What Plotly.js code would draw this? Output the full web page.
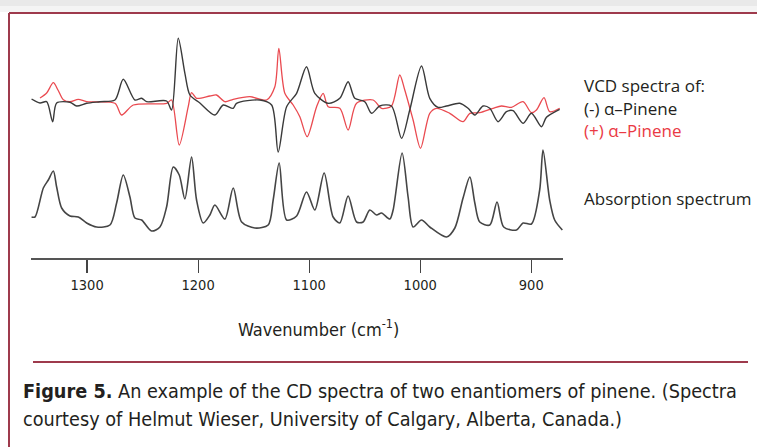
<!DOCTYPE html>
<html>
<head>
<meta charset="utf-8">
<script src="https://cdn.plot.ly/plotly-3.0.1.min.js"></script>
<style>html,body{margin:0;padding:0;background:#fff;}#chart{width:757px;height:447px;}</style>
</head>
<body>
<div id="chart"></div>
<script>
// Wavenumber (cm-1) and VCD signal (arbitrary units) of (-) alpha-pinene
const wnMinus = [1350,1342.4,1336.4,1331.0,1327.4,1315.4,1309.4,1300.4,1288.4,1274.9,1267.4,1256.9,1250.9,1246.4,1228.4,1223.9,1217.9,1211.9,1207.4,1198.4,1184.9,1177.4,1168.4,1165.4,1144.4,1133.8,1127.9,1120.3,1111.3,1102.4,1094.9,1082.9,1072.4,1064.9,1058.9,1049.9,1043.8,1036.4,1025.9,1016.8,1009.4,998.8,991.4,983.9,976.3,964.4,956.9,950.8,943.4,937.3,929.9,922.3,916.4,907.4,899.8,890.8,886.3,874.4];
const vcdMinus = [0.4,0,0.13,-1.87,0,0.07,-0.3,-0.03,0.13,0.3,2.37,0.3,0.47,0.13,0.2,-0.7,6.47,2.97,0.8,0,-1.2,-0.2,-0.53,-0.03,0.3,-0.2,-4.9,-0.37,0.97,3.63,0.97,-0.03,0.47,2.13,0.47,0.13,-1.03,-0.3,-0.3,-3.53,-0.7,3.7,0.47,-0.43,-0.3,-0.03,-0.53,-1.2,-0.3,-0.53,-1.87,-0.87,-0.77,-2.03,-1.03,-2.37,-1.43,-0.63];

// VCD signal of (+) alpha-pinene
const wnPlus = [1342.4,1336.4,1330.4,1326.2,1321.4,1315.4,1307.9,1300.4,1274.9,1268.9,1258.4,1228.4,1223.9,1217.0,1208.9,1205.9,1201.4,1189.4,1183.4,1175.9,1168.4,1153.4,1138.4,1130.9,1127.3,1121.9,1114.4,1108.4,1101.8,1093.3,1087.4,1082.9,1072.4,1064.9,1057.3,1042.4,1034.8,1025.9,1018.4,1013.9,1006.4,999.7,991.4,985.3,973.4,961.4,955.3,946.4,934.4,926.8,917.8,907.4,899.8,895.3,888.5,883.4,874.4];
const vcdPlus = [0.5,1.0,2.03,1.3,0.33,0.13,0.37,0.13,-0.03,-1.2,-0.2,-0.03,0.3,-4.2,-0.37,1.03,0.47,0.7,0.8,0.13,0.37,0.63,0.3,1.63,5.47,0.97,-0.2,-1.37,-3.37,-0.37,0.97,-0.37,-0.53,-2.7,-0.03,0.3,-0.53,-0.3,2.8,1.3,-1.7,-4.53,-1.03,-0.53,-1.03,-1.87,-1.03,-0.97,-0.53,-0.3,-0.43,0.13,-0.97,-0.7,0.53,-0.87,-0.53];

// Absorption spectrum (arbitrary units)
const wnAbs = [1350,1346.9,1339.4,1334.9,1330.4,1327.4,1322.9,1315.4,1307.9,1300.4,1291.4,1279.4,1273.4,1267.4,1261.4,1256.9,1250.9,1241.9,1234.4,1228.4,1222.4,1217.0,1211.9,1205.9,1201.4,1195.4,1189.4,1184.9,1175.9,1168.4,1160.8,1148.9,1136.9,1132.4,1127.0,1120.3,1111.3,1102.4,1094.9,1086.5,1078.4,1072.4,1064.9,1057.3,1051.4,1045.4,1039.3,1034.8,1027.4,1024.4,1016.3,1010.9,1006.4,998.8,991.4,976.3,968.8,961.4,955.3,950.8,946.4,937.3,930.8,924.8,913.3,907.4,899.8,892.4,889.4,883.4,878.9,872.0];
const absorb = [0.18,0.18,0.47,0.55,0.64,0.48,0.27,0.19,0.18,0.12,0.08,0.10,0.32,0.60,0.38,0.17,0.15,0.04,0.08,0.28,0.68,0.60,0.36,0.78,0.35,0.12,0.20,0.30,0.16,0.47,0.13,0.07,0.10,0.35,0.72,0.15,0.19,0.43,0.25,0.62,0.18,0.12,0.39,0.13,0.13,0.25,0.20,0.22,0.16,0.25,0.82,0.38,0.08,0.15,0.08,-0.02,0.07,0.37,0.58,0.32,0.13,0.10,0.33,0.08,0.05,0.12,0.11,0.45,0.85,0.35,0.15,0.05];

const tickVals = [1300,1200,1100,1000,900];
const tickText = ['1300','1200','1100','1000','900'];

const ink = '#231f20';
const maroon = '#9e3a4c';
const narrow = "'DejaVu Sans Condensed', 'Liberation Sans', sans-serif";

const traces = [
  {x: wnPlus, y: vcdPlus, yaxis: 'y2', type: 'scatter', mode: 'lines',
   line: {color: '#ea4a50', width: 1.3, shape: 'spline', smoothing: 0.8}, hoverinfo: 'skip'},
  {x: wnMinus, y: vcdMinus, yaxis: 'y2', type: 'scatter', mode: 'lines',
   line: {color: '#3a3a3a', width: 1.4, shape: 'spline', smoothing: 0.8}, hoverinfo: 'skip'},
  {x: wnAbs, y: absorb, yaxis: 'y', type: 'scatter', mode: 'lines',
   line: {color: '#454545', width: 1.6, shape: 'spline', smoothing: 0.8}, hoverinfo: 'skip'}
];

const L = 31, R = 194, T = 20, B = 189;
const PW = 757 - L - R, PH = 447 - T - B;
const px = v => (v - L) / PW;
const py = v => (447 - B - v) / PH;

const ann = (text, x, y, opts) => Object.assign({
  text: text, xref: 'paper', yref: 'paper', x: px(x), y: py(y),
  xanchor: 'left', yanchor: 'middle', showarrow: false,
  font: {family: 'Open Sans', size: 17, color: ink}
}, opts || {});

const layout = {
  width: 757, height: 447,
  margin: {l: L, r: R, t: T, b: B},
  paper_bgcolor: '#ffffff', plot_bgcolor: '#ffffff',
  showlegend: false,
  xaxis: {
    range: [1350.5, 871.4], tickvals: tickVals, ticktext: tickText,
    ticks: 'outside', ticklen: 13, tickwidth: 1.2, tickcolor: '#444',
    showline: true, linecolor: '#555', linewidth: 1.5,
    showgrid: false, zeroline: false,
    tickfont: {family: narrow, size: 14.5, color: ink}
  },
  yaxis: {range: [-0.23, 2.15], visible: false, showgrid: false, zeroline: false, fixedrange: true},
  yaxis2: {range: [-15.5, 8.3], overlaying: 'y', visible: false, showgrid: false, zeroline: false},
  shapes: [
    {type: 'rect', xref: 'paper', yref: 'paper', x0: px(0), x1: px(757), y0: py(0), y1: py(6),
     fillcolor: '#e9e9e9', line: {width: 0}, layer: 'below'},
    {type: 'rect', xref: 'paper', yref: 'paper', x0: px(0), x1: px(757), y0: py(6), y1: py(12),
     fillcolor: '#f4f4f4', line: {width: 0}, layer: 'below'},
    {type: 'line', xref: 'paper', yref: 'paper', x0: px(9), x1: px(760), y0: py(13), y1: py(13),
     line: {color: maroon, width: 2}},
    {type: 'line', xref: 'paper', yref: 'paper', x0: px(9), x1: px(9), y0: py(13), y1: py(450),
     line: {color: maroon, width: 2}},
    {type: 'line', xref: 'paper', yref: 'paper', x0: px(33), x1: px(748), y0: py(362), y1: py(362),
     line: {color: maroon, width: 2}}
  ],
  annotations: [
    ann('Wavenumber (cm<sup>-1</sup>)', 318, 328,
        {xanchor: 'center', font: {family: narrow, size: 18, color: ink}}),
    ann('VCD spectra of:', 582, 85),
    ann('(-) α–Pinene', 582, 108),
    ann('(+) α–Pinene', 582, 130, {font: {family: 'Open Sans', size: 17, color: '#ea3a44'}}),
    ann('Absorption spectrum', 582, 198),
    ann('<b>Figure 5.</b> An example of the CD spectra of two enantiomers of pinene. (Spectra', 21, 391,
        {font: {family: narrow, size: 19.7, color: ink}}),
    ann('courtesy of Helmut Wieser, University of Calgary, Alberta, Canada.)', 21, 419,
        {font: {family: narrow, size: 19.7, color: ink}})
  ]
};

Plotly.newPlot('chart', traces, layout, {staticPlot: true, displayModeBar: false});
</script>
</body>
</html>
